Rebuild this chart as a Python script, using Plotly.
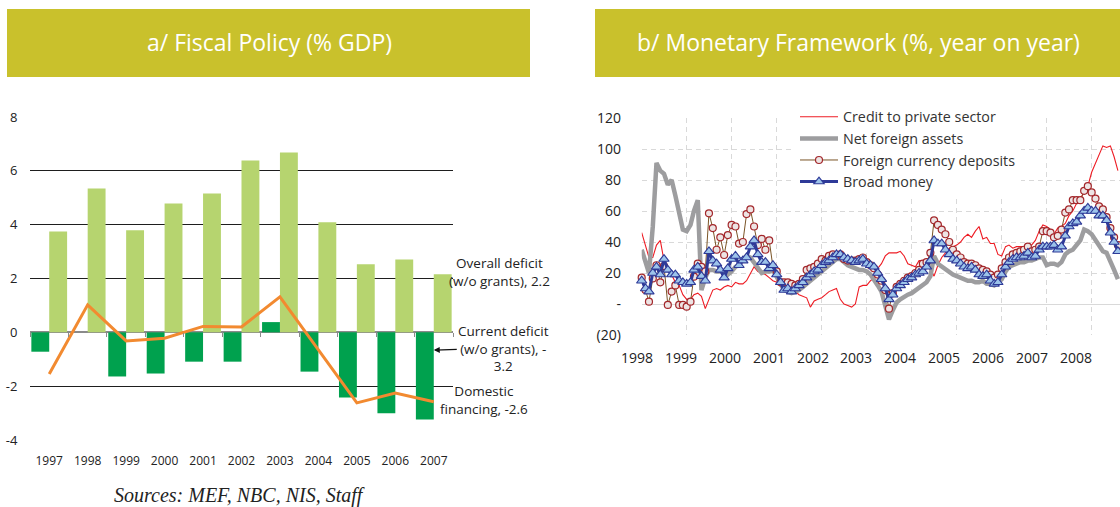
import plotly.graph_objects as go
import pandas as pd

W, H = 1120, 507

# ---------------- Panel a: Fiscal Policy (% GDP) ----------------
years = ["1997", "1998", "1999", "2000", "2001", "2002", "2003", "2004", "2005", "2006", "2007"]
overall_deficit = [3.75, 5.34, 3.79, 4.79, 5.16, 6.38, 6.68, 4.09, 2.53, 2.71, 2.16]
current_deficit = [-0.72, 0.0, -1.64, -1.53, -1.09, -1.09, 0.38, -1.46, -2.42, -3.01, -3.24]
domestic_financing = [-1.55, 1.02, -0.32, -0.22, 0.22, 0.20, 1.32, -0.65, -2.62, -2.26, -2.58]
a_yticks = [-4, -2, 0, 2, 4, 6, 8]
a_yticktext = ["-4", "-2", "0", "2", "4", "6", "8"]

# ---------------- Panel b: Monetary Framework (monthly, from Jan 1998) ----------------
start_month = "1998-01-01"
credit_private = [
    46, 38, 30, 30, 38, 41, 28, 24, 19, 14, 12, 6,
    3, 3, 6, 7, 5, -3, 3, 9, 10, 9, 11, 12,
    11, 14, 13, 13, 15, 20, 24, 21, 20, 19, 17, 15,
    14, 12, 10, 8, 8, 8, 6, 5, 4, -2, 2, 3,
    4, 6, 8, 9, 10, 3, 0, -1, -2, 0, 11, 12,
    12, 15, 17, 23, 26, 31, 33, 33, 33, 34, 31, 26,
    25, 24, 28, 28, 25, 22, 18, 25, 30, 33, 36, 37,
    38, 40, 43, 45, 43, 47, 50, 42, 43, 39, 39, 32,
    31, 37, 38, 36, 37, 37, 37, 37, 38, 41, 47, 51,
    50, 48, 45, 49, 50, 52, 57, 60, 65, 68, 72, 76,
    85, 91, 97, 102, 101, 102, 95, 86,
]
net_foreign_assets = [
    35, 27, 20, 50, 91, 86, 84, 77, 80, 70, 58, 48,
    47, 51, 60, 67, 9, 17, 22, 22, 21, 21, 21, 19,
    21, 24, 25, 29, 31, 30, 27, 24, 20, 21, 21, 22,
    18, 13, 9, 8, 7, 8, 9, 11, 13, 15, 17, 19,
    21, 23, 25, 27, 29, 29, 27, 25, 24, 23, 22, 22,
    21, 19, 16, 12, 8, 0, -10, -4, 1, 3, 5, 6,
    7, 9, 10, 12, 14, 18, 31, 26, 24, 23, 21, 19,
    18, 17, 16, 15, 15, 14, 14, 15, 13, 13, 12, 14,
    16, 21, 24, 25, 26, 27, 27, 28, 28, 29, 30, 30,
    25, 26, 26, 25, 27, 32, 34, 35, 38, 41, 48, 47,
    45, 41, 37, 34, 33, 28, 22, 16,
]
fx_deposits = [
    17, 9, 1.5, 16.5, 25, 14, 24.5, -0.6, 8, 12, -0.6, -0.6,
    -1.7, 1.5, 17.6, 26, 24, 21, 58.5, 49, 35, 43, 31.6, 44.5,
    51, 50, 39, 40, 58, 61, 50, 38, 42, 35, 41, 24,
    21, 14, 14, 14, 13, 12, 13, 16, 22, 23, 24, 26,
    29, 28, 31, 32, 31, 32, 29, 28, 28, 28, 29, 30,
    27, 25, 23, 19, 15, 9, -3, 7, 11, 13, 15, 17,
    18, 20, 22, 26, 27, 33, 54, 51, 48, 45, 40, 35,
    32, 30, 27, 26, 26, 25, 23, 22, 21, 19, 17, 19,
    23, 27, 30, 32, 33, 34, 35, 37, 34, 35, 37, 47,
    47, 46, 43, 44, 48, 59, 61, 67, 67, 67, 73, 76,
    72, 68, 63, 61, 56, 49, 43, 38,
]
broad_money = [
    15, 10, 8, 20, 24, 19, 29, 22, 19, 19, 15, 14,
    13, 14, 22, 24, 18, 15, 34, 28, 26, 22, 17, 23,
    29, 31, 25, 28, 30, 37, 41, 32, 27, 27, 23, 25,
    19, 14, 9, 10, 8, 10, 12, 14, 17, 19, 21, 22,
    25, 27, 28, 30, 32, 32, 30, 29, 28, 27, 28, 29,
    26, 25, 24, 20, 16, 10, 3, 6, 10, 12, 14, 16,
    17, 19, 20, 21, 24, 28, 41, 39, 39, 35, 32, 29,
    28, 26, 24, 23, 24, 22, 19, 18, 19, 15, 13, 14,
    19, 24, 27, 29, 30, 30, 31, 33, 30, 31, 35, 37,
    37, 37, 38, 35, 37, 44, 50, 52, 53, 57, 60, 62,
    60, 60, 57, 57, 54, 46, 40, 34,
]
year_labels = ["1998", "1999", "2000", "2001", "2002", "2003", "2004", "2005", "2006", "2007", "2008"]
b_yticks = [-20, 0, 20, 40, 60, 80, 100, 120]
b_yticktext = ["(20)", "-", "20", "40", "60", "80", "100", "120"]

months = pd.date_range(start_month, periods=len(broad_money), freq="MS")
last = len(years) - 1  # category index of the last year (for annotations)

FONT = "Open Sans"
TXT = "#222222"

fig = go.Figure()

# ---- panel a traces
fig.add_trace(go.Bar(x=years, y=current_deficit, marker=dict(color="#00A14E", line=dict(width=0)),
                     name="Current deficit", showlegend=False, xaxis="x", yaxis="y", hoverinfo="skip"))
fig.add_trace(go.Bar(x=years, y=overall_deficit, marker=dict(color="#B6D46F", line=dict(width=0)),
                     name="Overall deficit", showlegend=False, xaxis="x", yaxis="y", hoverinfo="skip"))
fig.add_trace(go.Scatter(x=years, y=domestic_financing, mode="lines",
                         line=dict(color="#F28A30", width=3), showlegend=False,
                         xaxis="x", yaxis="y", hoverinfo="skip"))
# helper (invisible) trace for the zero-line tick axis
fig.add_trace(go.Scatter(x=[-0.5, len(years) - 0.5], y=[0, 0], mode="lines", line=dict(width=0),
                         opacity=0, showlegend=False, xaxis="x3", yaxis="y", hoverinfo="skip"))

# ---- panel b traces
fig.add_trace(go.Scatter(x=months, y=credit_private, mode="lines", name="Credit to private sector",
                         line=dict(color="#EE1C24", width=1.1), xaxis="x2", yaxis="y2",
                         cliponaxis=False))
fig.add_trace(go.Scatter(x=months, y=net_foreign_assets, mode="lines", name="Net foreign assets",
                         line=dict(color="#9D9D9F", width=4.5), xaxis="x2", yaxis="y2",
                         cliponaxis=False))
fig.add_trace(go.Scatter(x=months, y=fx_deposits, mode="lines+markers", name="Foreign currency deposits",
                         line=dict(color="#7A5426", width=1),
                         marker=dict(symbol="circle", size=7, color="#EDE4E4",
                                     line=dict(color="#A3272B", width=1.2)),
                         xaxis="x2", yaxis="y2", cliponaxis=False))
fig.add_trace(go.Scatter(x=months, y=broad_money, mode="lines+markers", name="Broad money",
                         line=dict(color="#2E3A98", width=3),
                         marker=dict(symbol="triangle-up", size=9, color="#9CC3EA",
                                     line=dict(color="#2E3A98", width=1.1)),
                         xaxis="x2", yaxis="y2", cliponaxis=False))

# ---- geometry
ax_dom = [30 / W, 453 / W]
ay_dom = [1 - 440 / H, 1 - 117 / H]
zero_pos = ay_dom[0] + (0 - a_yticks[0]) / (a_yticks[-1] - a_yticks[0]) * (ay_dom[1] - ay_dom[0])
bx_dom = [641.7 / W, 1.0]
by_dom = [1 - 335 / H, 1 - 118 / H]

grid_b = "#D9D9D9"

fig.update_layout(
    width=W, height=H,
    margin=dict(l=0, r=0, t=0, b=0, pad=0, autoexpand=False),
    paper_bgcolor="white", plot_bgcolor="white",
    font=dict(family=FONT, color=TXT, size=12),
    barmode="group", bargap=0.07, bargroupgap=0,
    showlegend=True,
    legend=dict(x=795 / W, y=1 - 101 / H, xanchor="left", yanchor="top",
                bgcolor="white", font=dict(size=14.3, color="#333333"),
                traceorder="normal", itemwidth=38),
    xaxis=dict(domain=ax_dom, anchor="y", type="category", range=[-0.5, len(years) - 0.5],
               autorange=False, showgrid=False, showline=False,
               zeroline=False, ticks="outside", ticklen=10, tickcolor="rgba(0,0,0,0)",
               tickfont=dict(size=12, color=TXT), fixedrange=True, automargin=False),
    yaxis=dict(domain=ay_dom, anchor="x", range=[a_yticks[0], a_yticks[-1]], autorange=False,
               tickvals=a_yticks, ticktext=a_yticktext,
               showgrid=True, gridcolor="#1E1E1E", gridwidth=1.3,
               zeroline=True, zerolinecolor="#8A8A8A", zerolinewidth=1.5,
               ticks="outside", ticklen=9, tickcolor="rgba(0,0,0,0)",
               tickfont=dict(size=13, color=TXT), fixedrange=True, automargin=False),
    xaxis3=dict(overlaying="x", anchor="free", position=zero_pos, range=[-0.5, len(years) - 0.5],
                autorange=False,
                tickvals=[i - 0.5 for i in range(len(years) + 1)], ticks="outside", ticklen=4,
                tickcolor="#8A8A8A", tickwidth=1, showticklabels=False, showgrid=False,
                zeroline=False, showline=False, fixedrange=True, automargin=False),
    xaxis2=dict(domain=bx_dom, anchor="y2", type="date", autorange=False,
                range=[start_month, "2008-08-18"], tick0=start_month, dtick="M12",
                showgrid=True, gridcolor=grid_b, gridwidth=1, griddash="5px,4px",
                showticklabels=False, ticks="", showline=False, zeroline=False, fixedrange=True,
                automargin=False),
    yaxis2=dict(domain=by_dom, anchor="x2", range=[b_yticks[0], b_yticks[-1]], autorange=False,
                tickvals=b_yticks, ticktext=b_yticktext,
                showgrid=True, gridcolor=grid_b, gridwidth=1, griddash="5px,4px",
                zeroline=True, zerolinecolor=grid_b, zerolinewidth=1,
                ticks="outside", ticklen=17, tickcolor="rgba(0,0,0,0)",
                tickfont=dict(size=14, color=TXT), showline=False, fixedrange=True,
                automargin=False),
)

# ---- title bars
BAR = "#C9C12C"
fig.add_shape(type="rect", xref="paper", yref="paper", x0=7 / W, x1=530 / W, y0=1 - 77 / H, y1=1 - 9 / H,
              fillcolor=BAR, line=dict(width=0), layer="below")
fig.add_shape(type="rect", xref="paper", yref="paper", x0=595 / W, x1=1.0, y0=1 - 77 / H, y1=1 - 9 / H,
              fillcolor=BAR, line=dict(width=0), layer="below")
fig.add_annotation(text="a/ Fiscal Policy (% GDP)", xref="paper", yref="paper", x=269 / W, y=1 - 42 / H,
                   showarrow=False, font=dict(size=23, color="white", family=FONT),
                   xanchor="center", yanchor="middle")
fig.add_annotation(text="b/ Monetary Framework (%, year on year)", xref="paper", yref="paper",
                   x=858 / W, y=1 - 42 / H, showarrow=False,
                   font=dict(size=23, color="white", family=FONT), xanchor="center", yanchor="middle")

# ---- panel a labels (x given as category index of the last year)
fig.add_annotation(text="Overall deficit<br>(w/o grants), 2.2", x=last, y=overall_deficit[-1],
                   xref="x", yref="y", showarrow=False, xshift=66, yshift=2,
                   font=dict(size=13.5, color=TXT), align="center", xanchor="center", yanchor="middle")
fig.add_annotation(text="Current deficit<br>(w/o grants), -<br>3.2", x=last, y=-0.66,
                   xref="x", yref="y", showarrow=True, ax=70, ay=-2,
                   arrowhead=2, arrowsize=1, arrowwidth=1.2, arrowcolor="#111111",
                   font=dict(size=13.5, color=TXT), align="center")
fig.add_annotation(text="Domestic<br>financing, -2.6", x=last, y=domestic_financing[-1],
                   xref="x", yref="y", showarrow=False, xshift=50, yshift=2,
                   font=dict(size=13.5, color=TXT), align="center", xanchor="center", yanchor="middle")
fig.add_annotation(text="<i>Sources: MEF, NBC, NIS, Staff</i>", xref="paper", yref="paper",
                   x=239 / W, y=1 - 495 / H, showarrow=False,
                   font=dict(size=20, color=TXT, family="Liberation Serif"),
                   xanchor="center", yanchor="middle")

# ---- panel b year labels
for i, lab in enumerate(year_labels):
    fig.add_annotation(text=lab, x=f"{lab}-01-01", xref="x2", yref="paper", y=1 - 357 / H,
                       showarrow=False, xshift=-(4.7 + 1.1 * i),
                       font=dict(size=14, color=TXT), xanchor="center", yanchor="middle")

fig.write_html("out.html", config={"displayModeBar": False},
               post_script="document.body.style.margin='0';document.body.style.overflow='hidden';")
